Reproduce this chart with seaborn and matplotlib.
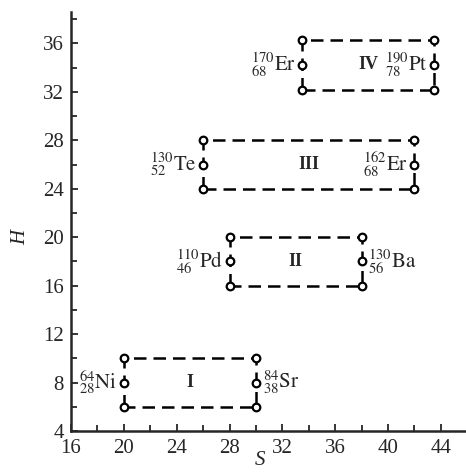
import matplotlib
matplotlib.use("Agg")
import matplotlib.pyplot as plt
import seaborn as sns
import pandas as pd
from matplotlib.ticker import MultipleLocator

sns.set_style("ticks")
plt.rcParams['font.family'] = ['Liberation Serif', 'DejaVu Serif']
plt.rcParams['mathtext.fontset'] = 'stix'

# ---- data ----
boxes = ['I', 'II', 'III', 'IV']
roman = ['I', 'II', 'III', 'IV']
s_left = [20, 28, 26, 33.5]
s_right = [30, 38, 42, 43.5]
h_low = [6, 16, 24, 32.2]
h_high = [10, 20, 28, 36.3]
left_nuclides = [r'${}^{64}_{28}\mathrm{Ni}$', r'${}^{110}_{46}\mathrm{Pd}$',
                 r'${}^{130}_{52}\mathrm{Te}$', r'${}^{170}_{68}\mathrm{Er}$']
right_nuclides = [r'${}^{84}_{38}\mathrm{Sr}$', r'${}^{130}_{56}\mathrm{Ba}$',
                  r'${}^{162}_{68}\mathrm{Er}$', r'${}^{190}_{78}\mathrm{Pt}$']
right_inside = [False, False, True, True]
x_ticks = [16, 20, 24, 28, 32, 36, 40, 44]
y_ticks = [4, 8, 12, 16, 20, 24, 28, 32, 36]

# build tables
outline_rows = []
point_rows = []
for b, sl, sr, hl, hh in zip(boxes, s_left, s_right, h_low, h_high):
    hm = (hl + hh) / 2
    for k, (s, h) in enumerate([(sl, hl), (sl, hh), (sr, hh), (sr, hl), (sl, hl)]):
        outline_rows.append(dict(box=b, order=k, S=s, H=h))
    for s in (sl, sr):
        for h in (hl, hm, hh):
            point_rows.append(dict(box=b, S=s, H=h))
outline = pd.DataFrame(outline_rows)
points = pd.DataFrame(point_rows)

fig = plt.figure(figsize=(4.66, 4.72), dpi=100)
ax = fig.add_axes([71 / 466, 41 / 472, (466 - 71) / 466, (431 - 12) / 472])

sns.lineplot(data=outline, x='S', y='H', units='box', estimator=None, sort=False,
             color='black', linewidth=1.8, linestyle=(0, (5, 2.8)), ax=ax, legend=False)
sns.scatterplot(data=points, x='S', y='H', marker='o', s=30, facecolor='white',
                edgecolor='black', linewidth=1.6, ax=ax, legend=False, zorder=3)

for rn, sl, sr, hl, hh, ln, rnuc, inside in zip(roman, s_left, s_right, h_low, h_high,
                                                left_nuclides, right_nuclides, right_inside):
    hm = (hl + hh) / 2
    ax.text((sl + sr) / 2, hm, rn, ha='center', va='center', fontsize=13, fontweight='bold')
    ax.text(sl - 0.5, hm, ln, ha='right', va='center', fontsize=15)
    if inside:
        ax.text(sr - 0.5, hm, rnuc, ha='right', va='center', fontsize=15)
    else:
        ax.text(sr + 0.5, hm, rnuc, ha='left', va='center', fontsize=15)

ax.set_xlim(16, 45.9)
ax.set_ylim(4, 38.6)
ax.set_xticks(x_ticks)
ax.set_yticks(y_ticks)
ax.xaxis.set_minor_locator(MultipleLocator(2))
ax.yaxis.set_minor_locator(MultipleLocator(2))
ax.tick_params(which='major', direction='in', length=5, width=1.3, labelsize=15, pad=5)
ax.tick_params(axis='x', which='major', pad=6)
ax.tick_params(which='minor', direction='in', length=4, width=1.3)
for side in ('top', 'right'):
    ax.spines[side].set_visible(False)
for side in ('left', 'bottom'):
    ax.spines[side].set_linewidth(1.8)

ax.set_xlabel('S', fontsize=15, fontstyle='italic')
ax.set_ylabel('H', fontsize=15, fontstyle='italic')
ax.xaxis.set_label_coords((260 - 71) / 395, -(451 - 431) / 419)
ax.yaxis.set_label_coords(-(71 - 30) / 395, (431 - 237) / 419)

fig.savefig('out.png', dpi=100)
